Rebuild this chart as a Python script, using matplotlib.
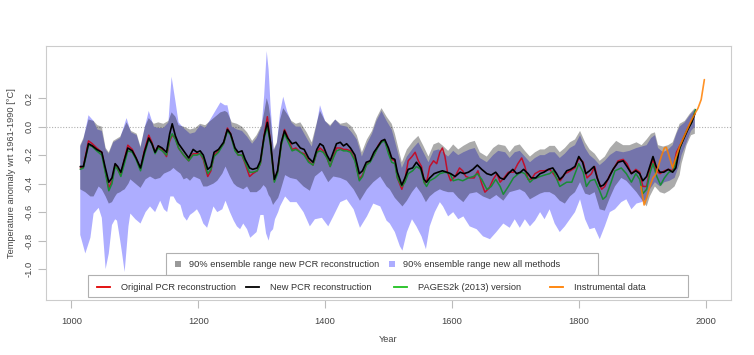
import matplotlib.pyplot as plt
from matplotlib.patches import Rectangle
from matplotlib.lines import Line2D

plt.rcParams['font.family'] = ['Liberation Sans', 'DejaVu Sans']

# ---- data (year, anomaly degC) ----
new_pcr_years = [1014, 1019, 1027, 1033, 1040, 1048, 1053, 1059, 1064, 1069, 1073, 1078, 1083, 1089,
                 1096, 1102, 1109, 1115, 1122, 1127, 1132, 1137, 1143, 1150, 1155, 1159, 1164, 1169,
                 1177, 1185, 1192, 1198, 1203, 1208, 1215, 1220, 1225, 1232, 1240, 1246, 1251, 1258,
                 1263, 1269, 1274, 1281, 1286, 1293, 1298, 1304, 1309, 1314, 1320, 1325, 1331, 1336,
                 1341, 1348, 1354, 1361, 1367, 1374, 1381, 1387, 1392, 1397, 1403, 1408, 1413, 1418,
                 1424, 1429, 1434, 1440, 1447, 1454, 1459, 1465, 1471, 1477, 1484, 1489, 1494, 1500,
                 1505, 1510, 1514, 1521, 1526, 1531, 1538, 1544, 1551, 1556, 1560, 1565, 1572, 1578,
                 1585, 1592, 1598, 1605, 1613, 1619, 1626, 1633, 1640, 1647, 1655, 1662, 1669, 1676,
                 1682, 1689, 1696, 1702, 1708, 1713, 1720, 1725, 1732, 1739, 1745, 1752, 1759, 1765,
                 1770, 1775, 1781, 1787, 1794, 1800, 1806, 1811, 1817, 1824, 1829, 1834, 1839, 1846,
                 1854, 1862, 1870, 1876, 1883, 1890, 1896, 1901, 1907, 1912, 1917, 1922, 1928, 1934,
                 1941, 1948, 1953, 1959, 1965, 1972, 1978, 1983]
new_pcr = [-0.28, -0.28, -0.12, -0.135, -0.16, -0.18, -0.28, -0.39, -0.36, -0.26, -0.28, -0.32, -0.24, -0.15,
           -0.17, -0.22, -0.29, -0.18, -0.08, -0.12, -0.18, -0.135, -0.15, -0.18, -0.05, 0.02, -0.065, -0.12,
           -0.17, -0.22, -0.16, -0.18, -0.17, -0.20, -0.30, -0.28, -0.18, -0.16, -0.11, -0.02, -0.05, -0.15,
           -0.18, -0.17, -0.23, -0.29, -0.30, -0.29, -0.24, -0.065, 0.03, -0.11, -0.37, -0.31, -0.11, -0.03,
           -0.08, -0.12, -0.11, -0.15, -0.16, -0.22, -0.25, -0.16, -0.12, -0.135, -0.20, -0.24, -0.18, -0.12,
           -0.11, -0.135, -0.12, -0.15, -0.20, -0.33, -0.31, -0.25, -0.24, -0.18, -0.135, -0.10, -0.09, -0.15,
           -0.22, -0.23, -0.32, -0.41, -0.36, -0.30, -0.29, -0.25, -0.29, -0.37, -0.39, -0.36, -0.33, -0.32,
           -0.31, -0.32, -0.33, -0.35, -0.32, -0.33, -0.32, -0.30, -0.27, -0.30, -0.33, -0.34, -0.32, -0.36,
           -0.37, -0.33, -0.30, -0.33, -0.32, -0.30, -0.33, -0.36, -0.36, -0.33, -0.32, -0.30, -0.29, -0.33,
           -0.37, -0.35, -0.31, -0.30, -0.28, -0.21, -0.25, -0.33, -0.31, -0.28, -0.36, -0.42, -0.41, -0.37,
           -0.30, -0.25, -0.24, -0.28, -0.33, -0.31, -0.33, -0.38, -0.35, -0.28, -0.21, -0.28, -0.32, -0.32,
           -0.30, -0.32, -0.29, -0.15, -0.09, -0.02, 0.03, 0.09]

orig_pcr_years = [1014, 1019, 1027, 1033, 1040, 1048, 1053, 1059, 1064, 1069, 1073, 1078, 1083, 1089,
                  1096, 1102, 1109, 1115, 1122, 1127, 1132, 1137, 1143, 1150, 1155, 1159, 1164, 1169,
                  1177, 1185, 1192, 1198, 1203, 1208, 1215, 1220, 1225, 1232, 1240, 1246, 1251, 1258,
                  1263, 1269, 1274, 1281, 1286, 1293, 1298, 1304, 1309, 1314, 1320, 1325, 1331, 1336,
                  1341, 1348, 1354, 1361, 1367, 1374, 1381, 1387, 1392, 1397, 1403, 1408, 1413, 1418,
                  1424, 1429, 1434, 1440, 1447, 1454, 1459, 1465, 1471, 1477, 1484, 1489, 1494, 1500,
                  1505, 1510, 1514, 1521, 1526, 1531, 1537, 1542, 1547, 1552, 1557, 1561, 1565, 1571,
                  1576, 1581, 1585, 1589, 1593, 1598, 1605, 1612, 1617, 1622, 1628, 1635, 1641, 1647,
                  1652, 1659, 1665, 1671, 1676, 1682, 1689, 1697, 1704, 1710, 1715, 1720, 1725, 1731,
                  1739, 1746, 1754, 1760, 1766, 1771, 1778, 1783, 1794, 1800, 1807, 1813, 1820, 1825,
                  1830, 1836, 1841, 1849, 1857, 1862, 1870, 1876, 1883, 1890, 1896, 1901, 1907, 1912,
                  1917, 1922, 1928, 1935, 1942, 1948, 1954, 1962, 1972, 1980]
orig_pcr = [-0.29, -0.28, -0.10, -0.12, -0.15, -0.18, -0.30, -0.43, -0.38, -0.27, -0.30, -0.34, -0.24, -0.13,
            -0.16, -0.22, -0.30, -0.17, -0.06, -0.11, -0.18, -0.135, -0.16, -0.21, -0.10, -0.06, -0.08, -0.15,
            -0.20, -0.24, -0.19, -0.19, -0.19, -0.23, -0.35, -0.31, -0.20, -0.17, -0.12, -0.01, -0.05, -0.16,
            -0.20, -0.20, -0.26, -0.35, -0.33, -0.31, -0.26, -0.06, 0.07, -0.12, -0.38, -0.32, -0.12, -0.02,
            -0.07, -0.16, -0.15, -0.18, -0.19, -0.24, -0.27, -0.18, -0.15, -0.17, -0.22, -0.28, -0.21, -0.15,
            -0.15, -0.16, -0.16, -0.17, -0.23, -0.37, -0.34, -0.27, -0.24, -0.20, -0.13, -0.10, -0.10, -0.17,
            -0.23, -0.24, -0.36, -0.44, -0.37, -0.24, -0.21, -0.18, -0.24, -0.28, -0.40, -0.37, -0.28, -0.24,
            -0.26, -0.18, -0.15, -0.21, -0.32, -0.38, -0.35, -0.29, -0.31, -0.35, -0.36, -0.36, -0.31, -0.40,
            -0.46, -0.43, -0.37, -0.33, -0.39, -0.36, -0.32, -0.32, -0.26, -0.22, -0.28, -0.37, -0.37, -0.33,
            -0.31, -0.31, -0.30, -0.33, -0.37, -0.38, -0.33, -0.32, -0.29, -0.22, -0.25, -0.36, -0.33, -0.28,
            -0.37, -0.44, -0.42, -0.34, -0.28, -0.24, -0.23, -0.26, -0.33, -0.30, -0.32, -0.42, -0.42, -0.30,
            -0.23, -0.31, -0.33, -0.31, -0.30, -0.31, -0.18, -0.11, -0.01, 0.06]

pages2k_years = [1014, 1019, 1027, 1033, 1040, 1048, 1053, 1059, 1064, 1069, 1073, 1078, 1083, 1089,
                 1096, 1102, 1109, 1115, 1122, 1127, 1132, 1137, 1143, 1150, 1155, 1159, 1164, 1169,
                 1177, 1185, 1192, 1198, 1203, 1208, 1215, 1220, 1225, 1232, 1240, 1246, 1251, 1258,
                 1263, 1269, 1274, 1281, 1286, 1293, 1298, 1304, 1309, 1314, 1320, 1325, 1331, 1336,
                 1341, 1348, 1354, 1361, 1367, 1374, 1381, 1387, 1392, 1397, 1403, 1408, 1413, 1418,
                 1424, 1429, 1434, 1440, 1447, 1454, 1459, 1465, 1471, 1477, 1484, 1489, 1494, 1500,
                 1505, 1510, 1514, 1521, 1526, 1531, 1538, 1544, 1551, 1556, 1560, 1565, 1573, 1581,
                 1589, 1597, 1602, 1610, 1617, 1626, 1634, 1640, 1647, 1655, 1662, 1669, 1676, 1681,
                 1689, 1697, 1705, 1710, 1715, 1723, 1728, 1739, 1746, 1754, 1760, 1770, 1781, 1789,
                 1800, 1807, 1812, 1818, 1825, 1832, 1838, 1843, 1851, 1857, 1867, 1875, 1883, 1890,
                 1896, 1901, 1907, 1912, 1917, 1923, 1929, 1935, 1942, 1949, 1954, 1962, 1970, 1978, 1984]
pages2k = [-0.30, -0.29, -0.13, -0.14, -0.17, -0.20, -0.31, -0.45, -0.40, -0.28, -0.30, -0.35, -0.27, -0.17,
           -0.18, -0.23, -0.31, -0.20, -0.09, -0.12, -0.19, -0.15, -0.17, -0.20, -0.09, -0.05, -0.09, -0.15,
           -0.20, -0.24, -0.20, -0.20, -0.19, -0.22, -0.33, -0.30, -0.21, -0.18, -0.12, -0.03, -0.06, -0.17,
           -0.20, -0.20, -0.25, -0.32, -0.32, -0.31, -0.26, -0.08, 0.00, -0.13, -0.39, -0.33, -0.13, -0.05,
           -0.10, -0.17, -0.16, -0.18, -0.20, -0.25, -0.27, -0.18, -0.17, -0.18, -0.22, -0.28, -0.22, -0.17,
           -0.16, -0.17, -0.17, -0.18, -0.24, -0.38, -0.35, -0.27, -0.25, -0.20, -0.14, -0.11, -0.10, -0.19,
           -0.25, -0.26, -0.36, -0.42, -0.39, -0.33, -0.31, -0.28, -0.30, -0.39, -0.42, -0.38, -0.36, -0.33,
           -0.32, -0.33, -0.38, -0.37, -0.38, -0.36, -0.35, -0.33, -0.37, -0.44, -0.42, -0.37, -0.42, -0.475,
           -0.42, -0.36, -0.33, -0.32, -0.33, -0.39, -0.37, -0.35, -0.34, -0.33, -0.31, -0.42, -0.39, -0.39,
           -0.26, -0.32, -0.42, -0.38, -0.37, -0.44, -0.51, -0.49, -0.39, -0.31, -0.29, -0.33, -0.39, -0.33,
           -0.37, -0.47, -0.44, -0.33, -0.26, -0.35, -0.41, -0.36, -0.32, -0.31, -0.22, -0.12, -0.03, 0.03, 0.12]

instr_years = [1898, 1903, 1907, 1912, 1917, 1922, 1930, 1935, 1938, 1942, 1948, 1953, 1959, 1966,
               1972, 1977, 1983, 1988, 1993, 1998]
instr = [-0.42, -0.55, -0.50, -0.42, -0.36, -0.33, -0.21, -0.15, -0.145, -0.20, -0.29, -0.22, -0.14, -0.07,
         -0.01, 0.04, 0.09, 0.13, 0.19, 0.33]

# upper edges of the two 90% ranges
upper_years = [1014, 1019, 1027, 1035, 1041, 1048, 1054, 1059, 1066, 1077, 1087, 1094, 1103, 1109, 1116,
               1122, 1130, 1137, 1145, 1153, 1158, 1164, 1169, 1177, 1187, 1195, 1203, 1211, 1219, 1227,
               1235, 1242, 1246, 1253, 1261, 1269, 1277, 1285, 1292, 1300, 1304, 1308, 1311, 1314, 1319,
               1324, 1329, 1334, 1340, 1347, 1354, 1361, 1371, 1379, 1387, 1392, 1400, 1408, 1416, 1424,
               1434, 1442, 1450, 1458, 1466, 1474, 1481, 1489, 1497, 1505, 1510, 1521, 1529, 1539, 1547,
               1555, 1563, 1571, 1579, 1586, 1594, 1602, 1610, 1618, 1628, 1636, 1644, 1655, 1665, 1673,
               1684, 1691, 1699, 1707, 1715, 1723, 1731, 1739, 1746, 1754, 1762, 1770, 1778, 1786, 1794,
               1802, 1810, 1817, 1825, 1833, 1841, 1849, 1859, 1870, 1880, 1891, 1899, 1907, 1914, 1920,
               1925, 1933, 1941, 1948, 1954, 1959, 1967, 1975, 1983]
pcr_upper = [-0.13, -0.08, 0.05, 0.04, 0.01, 0.0, -0.15, -0.18, -0.10, -0.07, 0.03, -0.03, -0.05, -0.14, 0.0,
             0.06, 0.02, 0.03, 0.02, 0.04, 0.10, 0.07, 0.01, 0.0, -0.02, -0.01, 0.02, 0.01, 0.04, 0.07,
             0.10, 0.11, 0.10, 0.03, 0.02, 0.0, -0.04, -0.10, -0.06, 0.01, 0.10, 0.20, 0.15, 0.06, -0.16,
             -0.11, 0.05, 0.13, 0.09, 0.04, 0.02, 0.03, -0.04, -0.11, 0.03, 0.11, 0.04, 0.01, 0.05, 0.02,
             0.03, 0.0, -0.06, -0.18, -0.09, -0.03, 0.06, 0.13, 0.07, 0.02, -0.05, -0.25, -0.16, -0.10, -0.065,
             -0.135, -0.21, -0.125, -0.11, -0.135, -0.17, -0.125, -0.16, -0.135, -0.11, -0.10, -0.18, -0.21, -0.15, -0.125,
             -0.135, -0.18, -0.135, -0.125, -0.17, -0.21, -0.18, -0.16, -0.16, -0.135, -0.135, -0.18, -0.15, -0.11, -0.09,
             -0.03, -0.11, -0.16, -0.19, -0.24, -0.21, -0.15, -0.10, -0.13, -0.13, -0.11, -0.13, -0.09, -0.05, -0.04,
             -0.13, -0.14, -0.13, -0.11, -0.04, 0.02, 0.04, 0.09, 0.13]
all_upper = [-0.14, -0.09, 0.08, 0.04, -0.02, -0.03, -0.16, -0.19, -0.11, -0.08, 0.06, -0.04, -0.06, -0.15, 0.0,
             0.11, 0.0, -0.01, -0.01, 0.03, 0.35, 0.18, 0.03, -0.01, -0.05, -0.04, 0.01, -0.01, 0.05, 0.11,
             0.17, 0.15, 0.15, 0.0, -0.02, -0.03, -0.07, -0.12, -0.08, 0.0, 0.22, 0.53, 0.40, 0.15, -0.17,
             -0.12, 0.10, 0.21, 0.11, 0.03, 0.0, 0.0, -0.08, -0.14, 0.02, 0.15, 0.04, 0.0, 0.05, 0.01,
             0.0, -0.04, -0.09, -0.21, -0.12, -0.05, 0.04, 0.11, 0.04, -0.02, -0.10, -0.29, -0.21, -0.15, -0.11,
             -0.18, -0.25, -0.17, -0.16, -0.18, -0.21, -0.17, -0.20, -0.18, -0.16, -0.15, -0.22, -0.25, -0.20, -0.17,
             -0.18, -0.22, -0.18, -0.17, -0.21, -0.25, -0.22, -0.20, -0.20, -0.18, -0.18, -0.22, -0.19, -0.15, -0.13,
             -0.06, -0.15, -0.20, -0.23, -0.27, -0.24, -0.20, -0.17, -0.18, -0.17, -0.15, -0.14, -0.13, -0.08, -0.06,
             -0.15, -0.18, -0.16, -0.13, -0.05, 0.0, 0.03, 0.08, 0.12]

# lower edges of the two 90% ranges
lower_years = [1014, 1022, 1030, 1035, 1043, 1048, 1054, 1059, 1064, 1069, 1072, 1077, 1080, 1084, 1090,
               1093, 1101, 1109, 1117, 1124, 1132, 1140, 1146, 1151, 1156, 1161, 1166, 1172, 1177, 1182,
               1187, 1193, 1198, 1203, 1208, 1214, 1224, 1230, 1238, 1243, 1250, 1256, 1261, 1266, 1271,
               1277, 1282, 1292, 1298, 1303, 1307, 1311, 1314, 1318, 1321, 1326, 1329, 1337, 1345, 1355,
               1366, 1376, 1384, 1395, 1405, 1413, 1424, 1434, 1445, 1455, 1466, 1476, 1487, 1497, 1502,
               1510, 1518, 1522, 1529, 1537, 1544, 1552, 1559, 1565, 1573, 1581, 1586, 1594, 1602, 1610,
               1618, 1628, 1639, 1649, 1660, 1670, 1681, 1691, 1699, 1707, 1715, 1723, 1731, 1739, 1746,
               1754, 1762, 1770, 1778, 1786, 1794, 1802, 1810, 1817, 1825, 1833, 1841, 1849, 1857, 1867,
               1875, 1883, 1891, 1899, 1907, 1912, 1920, 1928, 1935, 1943, 1951, 1959, 1962, 1970, 1977, 1983]
pcr_lower = [-0.44, -0.46, -0.49, -0.49, -0.42, -0.44, -0.49, -0.54, -0.53, -0.49, -0.47, -0.46, -0.45, -0.44, -0.40,
             -0.37, -0.40, -0.43, -0.37, -0.35, -0.37, -0.36, -0.33, -0.32, -0.31, -0.29, -0.31, -0.33, -0.37, -0.36,
             -0.38, -0.35, -0.36, -0.37, -0.42, -0.42, -0.40, -0.38, -0.33, -0.28, -0.35, -0.40, -0.42, -0.43, -0.44,
             -0.42, -0.46, -0.46, -0.44, -0.41, -0.43, -0.48, -0.50, -0.55, -0.53, -0.50, -0.46, -0.34, -0.36, -0.37,
             -0.42, -0.45, -0.35, -0.31, -0.39, -0.35, -0.36, -0.38, -0.44, -0.52, -0.44, -0.39, -0.35, -0.42, -0.44,
             -0.50, -0.54, -0.56, -0.52, -0.46, -0.42, -0.47, -0.53, -0.49, -0.46, -0.44, -0.45, -0.46, -0.46, -0.50,
             -0.53, -0.47, -0.46, -0.49, -0.51, -0.48, -0.52, -0.46, -0.45, -0.44, -0.46, -0.51, -0.49, -0.47, -0.46,
             -0.46, -0.48, -0.52, -0.54, -0.49, -0.46, -0.39, -0.47, -0.48, -0.46, -0.58, -0.59, -0.50, -0.42, -0.36,
             -0.38, -0.42, -0.46, -0.51, -0.56, -0.49, -0.42, -0.46, -0.47, -0.45, -0.42, -0.34, -0.26, -0.13, -0.06, -0.05]
all_lower = [-0.76, -0.89, -0.78, -0.61, -0.57, -0.64, -1.00, -0.89, -0.69, -0.65, -0.66, -0.80, -0.89, -1.02, -0.70,
             -0.61, -0.65, -0.68, -0.60, -0.56, -0.60, -0.52, -0.58, -0.60, -0.49, -0.49, -0.53, -0.55, -0.63, -0.66,
             -0.62, -0.60, -0.58, -0.62, -0.68, -0.71, -0.56, -0.60, -0.58, -0.52, -0.60, -0.66, -0.70, -0.72, -0.68,
             -0.72, -0.78, -0.74, -0.62, -0.62, -0.75, -0.80, -0.74, -0.72, -0.65, -0.60, -0.56, -0.49, -0.53, -0.53,
             -0.60, -0.70, -0.65, -0.64, -0.70, -0.63, -0.53, -0.51, -0.58, -0.71, -0.63, -0.54, -0.56, -0.66, -0.68,
             -0.74, -0.84, -0.87, -0.74, -0.65, -0.70, -0.77, -0.86, -0.70, -0.60, -0.53, -0.56, -0.63, -0.60, -0.65,
             -0.63, -0.70, -0.72, -0.77, -0.79, -0.74, -0.68, -0.71, -0.65, -0.71, -0.65, -0.70, -0.66, -0.60, -0.65,
             -0.58, -0.68, -0.74, -0.70, -0.65, -0.60, -0.51, -0.65, -0.72, -0.71, -0.79, -0.70, -0.60, -0.58, -0.53,
             -0.51, -0.58, -0.54, -0.53, -0.51, -0.44, -0.39, -0.42, -0.39, -0.38, -0.36, -0.26, -0.20, -0.11, -0.03, 0.0]

W, H = 754, 355
FS = 6.7
fig = plt.figure(figsize=(W / 100, H / 100), dpi=100)
ax = fig.add_axes([46 / W, 1 - 300 / H, (731 - 46) / W, (300 - 46) / H])

blue_fill = (0.68, 0.68, 1.0)
ax.axhline(0, color='#b0b0b0', lw=0.8, ls=(0, (1, 1.5)), zorder=0)

ax.fill(upper_years + lower_years[::-1], all_upper + all_lower[::-1], color=blue_fill, lw=0, zorder=1)
ax.fill(upper_years + lower_years[::-1], pcr_upper + pcr_lower[::-1], color='black', alpha=0.33, lw=0, zorder=2)

line_kw = dict(solid_joinstyle='round', solid_capstyle='round')
ax.plot(orig_pcr_years, orig_pcr, color='#c0102c', lw=1.1, zorder=3, **line_kw)
ax.plot(pages2k_years, pages2k, color='#1a8c36', lw=1.1, zorder=4, **line_kw)
ax.plot(new_pcr_years, new_pcr, color='black', lw=1.2, zorder=5, **line_kw)
ax.plot(instr_years, instr, color='#ff7f00', lw=1.2, alpha=0.85, zorder=6, **line_kw)

ax.set_xlim(960, 2040)
ax.set_ylim(-1.217, 0.566)
ax.set_xticks(range(1000, 2001, 200))
ax.set_yticks([-1.0, -0.8, -0.6, -0.4, -0.2, 0.0, 0.2])
ax.set_yticklabels(['-1.0', '-0.8', '-0.6', '-0.4', '-0.2', '0.0', '0.2'], rotation=90, va='center')
ax.tick_params(colors='#bbbbbb', labelcolor='#444444', labelsize=FS, length=6, width=0.8)
ax.tick_params(axis='x', pad=6)
ax.tick_params(axis='y', pad=3)
for s in ax.spines.values():
    s.set_color('#cccccc')
    s.set_linewidth(0.8)
ax.set_xlabel('Year', fontsize=FS, color='#444444', labelpad=7)
ax.set_ylabel('Temperature anomaly wrt 1961-1990 [°C]', fontsize=FS, color='#444444', labelpad=6)


def fx(x):
    return x / W


def fy(y):
    return 1 - y / H


def box(x0, y0, x1, y1):
    fig.add_artist(Rectangle((fx(x0), fy(y1)), (x1 - x0) / W, (y1 - y0) / H, transform=fig.transFigure,
                             facecolor='white', edgecolor='#b0b0b0', lw=0.8, zorder=10))


def label(x, y, s):
    fig.text(fx(x), fy(y), s, fontsize=FS, color='#333333', va='center', ha='left', zorder=11)


# legend for the ensemble ranges
box(166, 253, 598, 275)
for x, c, s in [(178, '#999999', '90% ensemble range new PCR reconstruction'),
                (392, blue_fill, '90% ensemble range new all methods')]:
    fig.add_artist(Rectangle((fx(x - 3), fy(267)), 6 / W, 6 / H, transform=fig.transFigure,
                             facecolor=c, lw=0, zorder=11))
    label(x + 11, 264.5, s)

# legend for the lines
box(88, 275, 688, 297)
for x, c, s in [(97, '#e00000', 'Original PCR reconstruction'),
                (246, 'black', 'New PCR reconstruction'),
                (394, '#20c020', 'PAGES2k (2013) version'),
                (550, '#ff7f00', 'Instrumental data')]:
    fig.add_artist(Line2D([fx(x), fx(x + 13)], [fy(287), fy(287)], transform=fig.transFigure,
                          color=c, lw=1.3, zorder=11))
    label(x + 24, 287, s)

fig.savefig('out.png', dpi=100)
